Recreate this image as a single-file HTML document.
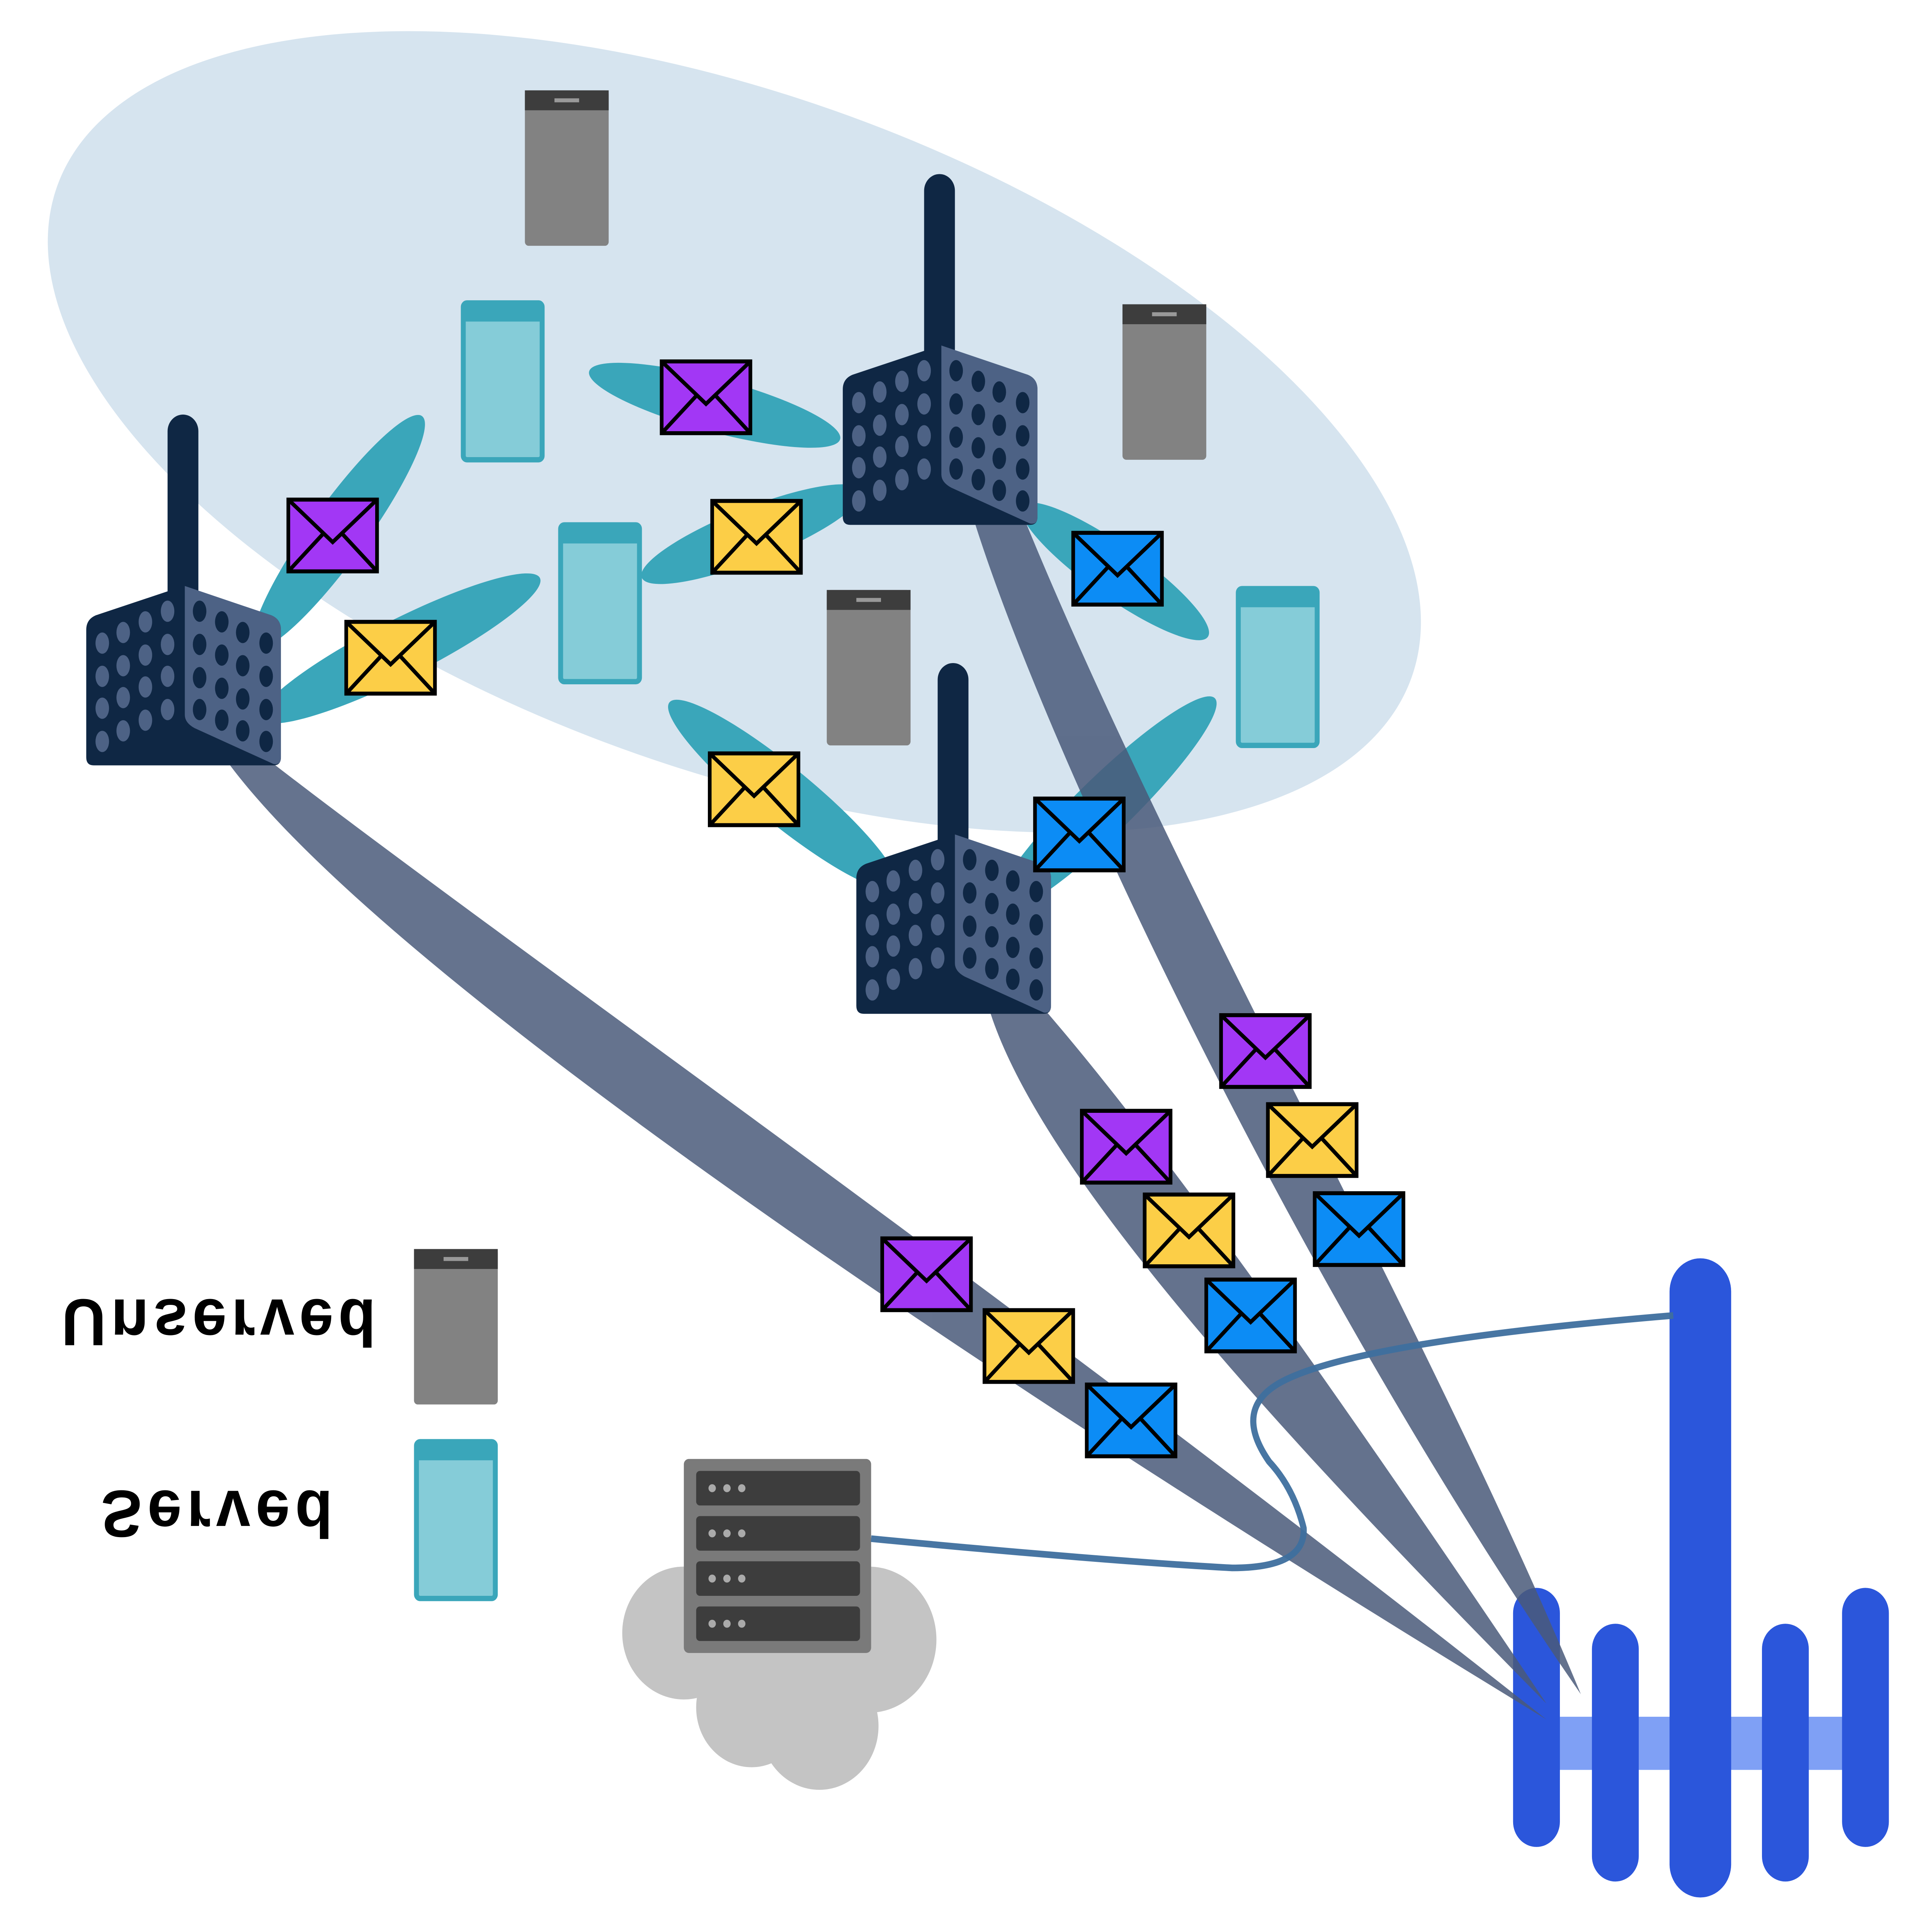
<!DOCTYPE html>
<html><head><meta charset="utf-8"><style>
html,body{margin:0;padding:0;background:#fff;width:100%;height:100%;overflow:hidden}
svg{display:block;position:fixed;left:0;top:0;width:100vw;height:100vh}
</style></head><body>
<svg viewBox="0 0 1568 1454" preserveAspectRatio="none" xmlns="http://www.w3.org/2000/svg">
<defs>
<g id="env">
<rect x="0" y="0" width="72" height="54" fill="currentColor" stroke="#000" stroke-width="3"/>
<path d="M0 0 L36 32 L72 0 M0 54 L28 26 M72 54 L44 26" fill="none" stroke="#000" stroke-width="3"/>
</g>
<g id="tower">
<rect x="66" y="0" width="25" height="150" rx="12.5" fill="#0f2744"/>
<path d="M0 162 Q0 154 8 151 L79 129 L150 151 Q158 154 158 162 L158 258 Q158 264 152 264 L6 264 Q0 264 0 258 Z" fill="#0f2744"/>
<path d="M80 129 L150 151 Q158 154 158 162 L158 258 Q158 264 152 263 L88 236 Q80 232 80 226 Z" fill="#4d6285"/>
<g fill="#4d6285">
<ellipse cx="13" cy="172" rx="5.5" ry="8"/><ellipse cx="13" cy="197" rx="5.5" ry="8"/><ellipse cx="13" cy="221" rx="5.5" ry="8"/><ellipse cx="13" cy="246" rx="5.5" ry="8"/>
<ellipse cx="30" cy="164" rx="5.5" ry="8"/><ellipse cx="30" cy="189" rx="5.5" ry="8"/><ellipse cx="30" cy="213" rx="5.5" ry="8"/><ellipse cx="30" cy="238" rx="5.5" ry="8"/>
<ellipse cx="48" cy="156" rx="5.5" ry="8"/><ellipse cx="48" cy="181" rx="5.5" ry="8"/><ellipse cx="48" cy="205" rx="5.5" ry="8"/><ellipse cx="48" cy="230" rx="5.5" ry="8"/>
<ellipse cx="66" cy="148" rx="5.5" ry="8"/><ellipse cx="66" cy="173" rx="5.5" ry="8"/><ellipse cx="66" cy="197" rx="5.5" ry="8"/><ellipse cx="66" cy="222" rx="5.5" ry="8"/>
</g>
<g fill="#0f2744">
<ellipse cx="92" cy="148" rx="5.5" ry="8"/><ellipse cx="92" cy="173" rx="5.5" ry="8"/><ellipse cx="92" cy="198" rx="5.5" ry="8"/><ellipse cx="92" cy="222" rx="5.5" ry="8"/>
<ellipse cx="110" cy="156" rx="5.5" ry="8"/><ellipse cx="110" cy="181" rx="5.5" ry="8"/><ellipse cx="110" cy="206" rx="5.5" ry="8"/><ellipse cx="110" cy="230" rx="5.5" ry="8"/>
<ellipse cx="127" cy="164" rx="5.5" ry="8"/><ellipse cx="127" cy="189" rx="5.5" ry="8"/><ellipse cx="127" cy="214" rx="5.5" ry="8"/><ellipse cx="127" cy="238" rx="5.5" ry="8"/>
<ellipse cx="146" cy="172" rx="5.5" ry="8"/><ellipse cx="146" cy="197" rx="5.5" ry="8"/><ellipse cx="146" cy="222" rx="5.5" ry="8"/><ellipse cx="146" cy="246" rx="5.5" ry="8"/>
</g>
</g>
</defs>
<rect width="1568" height="1454" fill="#fff"/>
<ellipse cx="596" cy="325" rx="580" ry="255" transform="rotate(18 596 325)" fill="#d6e4ef"/>
<g fill="#3aa6ba">
<ellipse cx="275" cy="400" rx="110" ry="22" transform="rotate(-52 275 400)"/>
<ellipse cx="325" cy="488" rx="125" ry="22" transform="rotate(-25 325 488)"/>
<ellipse cx="580" cy="305" rx="105" ry="20" transform="rotate(14 580 305)"/>
<ellipse cx="610" cy="402" rx="95" ry="20" transform="rotate(-20 610 402)"/>
<ellipse cx="905" cy="430" rx="90" ry="20" transform="rotate(33 905 430)"/>
<ellipse cx="635" cy="598" rx="115" ry="22" transform="rotate(37 635 598)"/>
<ellipse cx="897" cy="606" rx="120" ry="22" transform="rotate(-42 897 606)"/>
</g>
<rect x="1266" y="1292" width="230" height="40" fill="#7fa0f5"/>
<g fill="#2b56db">
<rect x="1228" y="1195" width="38" height="195" rx="19"/><rect x="1292" y="1222" width="38" height="194" rx="19"/><rect x="1355" y="947" width="50" height="481" rx="25"/><rect x="1430" y="1222" width="38" height="194" rx="19"/><rect x="1495" y="1195" width="38" height="195" rx="19"/>
</g>
<g fill="#4a5a7a" opacity="0.85">
<path d="M182 570 C290 710 690 975 1255 1294 C820 975 410 710 218 572 Z"/>
<path d="M790 390 C845 555 1045 955 1283 1275 C1160 1000 955 670 832 392 Z"/>
<path d="M803 760 C845 885 1045 1085 1255 1282 C1105 1075 955 875 848 760 Z"/>
</g>
<use href="#tower" x="70" y="312"/>
<use href="#tower" x="684" y="131"/>
<use href="#tower" x="695" y="499"/>
<g fill="#828282">
<rect x="426" y="68" width="68" height="117" rx="3"/><rect x="911" y="229" width="68" height="117" rx="3"/><rect x="671" y="444" width="68" height="117" rx="3"/><rect x="336" y="940" width="68" height="117" rx="3"/>
</g>
<g fill="#3d3d3d"><rect x="426" y="68" width="68" height="15"/><rect x="911" y="229" width="68" height="15"/><rect x="671" y="444" width="68" height="15"/><rect x="336" y="940" width="68" height="15"/></g>
<g fill="#999"><rect x="450" y="74" width="20" height="3"/><rect x="935" y="235" width="20" height="3"/><rect x="695" y="450" width="20" height="3"/><rect x="360" y="946" width="20" height="3"/></g>
<g fill="#85ccd8" stroke="#3aa6ba" stroke-width="4">
<rect x="376" y="228" width="64" height="118" rx="3"/><rect x="455" y="395" width="64" height="118" rx="3"/><rect x="1005" y="443" width="64" height="118" rx="3"/><rect x="338" y="1085" width="64" height="118" rx="3"/>
</g>
<g fill="#3aa6ba"><rect x="376" y="228" width="64" height="14"/><rect x="455" y="395" width="64" height="14"/><rect x="1005" y="443" width="64" height="14"/><rect x="338" y="1085" width="64" height="14"/></g>
<g color="#a237f5">
<use href="#env" x="537" y="272"/><use href="#env" x="234" y="376"/><use href="#env" x="991" y="764"/><use href="#env" x="878" y="836"/><use href="#env" x="716" y="932"/>
</g>
<g color="#fcce47">
<use href="#env" x="578" y="377"/><use href="#env" x="281" y="468"/><use href="#env" x="576" y="567"/><use href="#env" x="1029" y="831"/><use href="#env" x="929" y="899"/><use href="#env" x="799" y="986"/>
</g>
<g color="#0c8cf5">
<use href="#env" x="871" y="401"/><use href="#env" x="840" y="601"/><use href="#env" x="1067" y="898"/><use href="#env" x="979" y="963"/><use href="#env" x="882" y="1042"/>
</g>
<g fill="#c4c4c4">
<circle cx="630" cy="1235" r="75"/><circle cx="555" cy="1229" r="50"/><circle cx="705" cy="1234" r="55"/><circle cx="610" cy="1285" r="45"/><circle cx="665" cy="1299" r="48"/>
</g>
<rect x="555" y="1098" width="152" height="146" rx="4" fill="#7a7a7a"/>
<g fill="#3d3d3d"><rect x="565" y="1107" width="133" height="26" rx="3"/><rect x="565" y="1141" width="133" height="26" rx="3"/><rect x="565" y="1175" width="133" height="26" rx="3"/><rect x="565" y="1209" width="133" height="26" rx="3"/></g>
<g fill="#aaa"><circle cx="578" cy="1120" r="3"/><circle cx="590" cy="1120" r="3"/><circle cx="602" cy="1120" r="3"/><circle cx="578" cy="1154" r="3"/><circle cx="590" cy="1154" r="3"/><circle cx="602" cy="1154" r="3"/><circle cx="578" cy="1188" r="3"/><circle cx="590" cy="1188" r="3"/><circle cx="602" cy="1188" r="3"/><circle cx="578" cy="1222" r="3"/><circle cx="590" cy="1222" r="3"/><circle cx="602" cy="1222" r="3"/></g>
<path d="M707 1158 Q900 1175 1000 1180 Q1060 1180 1058 1150 Q1050 1120 1030 1100 Q1000 1060 1040 1040 Q1100 1010 1358 990" fill="none" stroke="#3e6f9e" stroke-width="5" opacity="0.95"/>
<g font-family="Liberation Sans, sans-serif" font-weight="bold" font-size="50" fill="#000">
<text x="50" y="-978" transform="scale(1,-1)" textLength="255">Unserved</text>
<text x="82" y="-1122" transform="scale(1,-1)" textLength="188">Served</text>
</g>
</svg>
</body></html>
